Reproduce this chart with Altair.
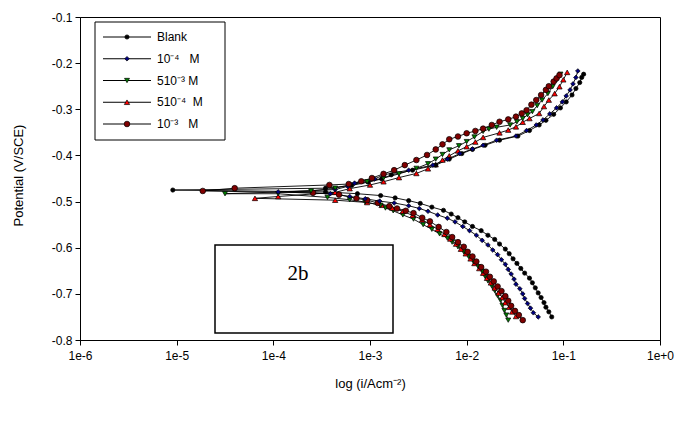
import altair as alt
import pandas as pd

# ---------------- data (E in V/SCE, log10 of current density) ----------------
series_names = ["Blank", "1e-4", "5e-3", "5e-4", "1e-3"]
legend_labels = ["Blank", "10\u207b\u2074\u00a0\u00a0\u00a0M", "510\u207b\u00b3\u00a0M",
                 "510\u207b\u2074\u00a0\u00a0M", "10\u207b\u00b3\u00a0\u00a0\u00a0M"]

blank_E = [-0.750, -0.739, -0.729, -0.719, -0.708, -0.698, -0.687, -0.676, -0.666, -0.655,
           -0.645, -0.634, -0.624, -0.613, -0.603, -0.592, -0.582, -0.573, -0.563, -0.554,
           -0.544, -0.535, -0.527, -0.519, -0.512, -0.504, -0.498, -0.492, -0.487, -0.483,
           -0.479, -0.475,
           -0.471, -0.465, -0.458, -0.451, -0.442, -0.432, -0.421, -0.408, -0.396, -0.387,
           -0.378, -0.367, -0.358, -0.346, -0.334, -0.324, -0.311, -0.297, -0.284, -0.269,
           -0.255, -0.242, -0.231, -0.224]
blank_logi = [-1.12, -1.15, -1.18, -1.20, -1.23, -1.26, -1.29, -1.32, -1.35, -1.40,
              -1.44, -1.48, -1.52, -1.56, -1.60, -1.66, -1.71, -1.78, -1.85, -1.94,
              -2.02, -2.09, -2.16, -2.24, -2.36, -2.48, -2.60, -2.74, -2.89, -3.13,
              -3.46, -5.04,
              -3.46, -3.19, -3.02, -2.88, -2.78, -2.56, -2.32, -2.18, -2.05, -1.94,
              -1.81, -1.66, -1.47, -1.35, -1.25, -1.18, -1.10, -1.03, -0.97, -0.91,
              -0.87, -0.83, -0.81, -0.79]

c1e4_E = [-0.750, -0.741, -0.731, -0.721, -0.710, -0.700, -0.689, -0.679, -0.668, -0.657,
          -0.647, -0.636, -0.626, -0.615, -0.605, -0.594, -0.584, -0.573, -0.563, -0.554,
          -0.544, -0.536, -0.529, -0.521, -0.515, -0.509, -0.503, -0.499, -0.494, -0.489,
          -0.483, -0.479,
          -0.474, -0.467, -0.460, -0.451, -0.442, -0.432, -0.421, -0.408, -0.396, -0.386,
          -0.378, -0.367, -0.358, -0.346, -0.334, -0.323, -0.310, -0.297, -0.284, -0.271,
          -0.258, -0.245, -0.231, -0.217]
c1e4_logi = [-1.26, -1.31, -1.34, -1.37, -1.40, -1.42, -1.45, -1.49, -1.51, -1.54,
             -1.57, -1.60, -1.64, -1.68, -1.73, -1.78, -1.84, -1.90, -1.97, -2.04,
             -2.12, -2.20, -2.30, -2.40, -2.49, -2.60, -2.75, -2.90, -3.05, -3.21,
             -3.41, -3.95,
             -3.36, -3.23, -3.16, -2.95, -2.86, -2.60, -2.35, -2.20, -2.07, -1.94,
             -1.83, -1.69, -1.49, -1.38, -1.28, -1.21, -1.14, -1.07, -1.01, -0.97,
             -0.93, -0.90, -0.87, -0.85]

c5e3_E = [-0.757, -0.746, -0.736, -0.725, -0.714, -0.704, -0.693, -0.683, -0.672, -0.662,
          -0.651, -0.641, -0.630, -0.619, -0.609, -0.598, -0.588, -0.579, -0.570, -0.560,
          -0.550, -0.538, -0.529, -0.520, -0.514, -0.508, -0.501, -0.496, -0.491, -0.483,
          -0.483, -0.477, -0.471, -0.464, -0.457, -0.449, -0.440, -0.428, -0.418, -0.408,
          -0.398, -0.388, -0.379, -0.370, -0.360, -0.348, -0.343, -0.339, -0.334, -0.327,
          -0.320, -0.312, -0.305, -0.292, -0.280, -0.266, -0.251, -0.237, -0.224]
c5e3_logi = [-1.57, -1.59, -1.61, -1.63, -1.65, -1.68, -1.71, -1.74, -1.78, -1.81,
             -1.84, -1.88, -1.93, -1.98, -2.03, -2.09, -2.15, -2.20, -2.28, -2.36,
             -2.45, -2.55, -2.66, -2.76, -2.84, -2.89, -3.05, -3.21, -3.44, -3.95,
             -4.50, -3.61, -3.36, -3.21, -3.03, -2.86, -2.70, -2.52, -2.40, -2.32,
             -2.25, -2.18, -2.08, -2.00, -1.92, -1.83, -1.77, -1.69, -1.55, -1.48,
             -1.42, -1.37, -1.32, -1.27, -1.22, -1.16, -1.11, -1.07, -1.03]

c5e4_E = [-0.749, -0.739, -0.729, -0.719, -0.708, -0.698, -0.687, -0.676, -0.666, -0.655,
          -0.645, -0.634, -0.624, -0.613, -0.603, -0.592, -0.581, -0.571, -0.560, -0.550,
          -0.539, -0.530, -0.521, -0.514, -0.508, -0.502, -0.497, -0.493, -0.489, -0.480,
          -0.472, -0.464, -0.457, -0.448, -0.439, -0.429, -0.420, -0.410, -0.401, -0.390,
          -0.381, -0.371, -0.361, -0.351, -0.345, -0.338, -0.328, -0.320, -0.309, -0.294,
          -0.280, -0.266, -0.251, -0.236, -0.220]
c5e4_logi = [-1.49, -1.53, -1.56, -1.60, -1.63, -1.67, -1.71, -1.75, -1.79, -1.83,
             -1.87, -1.92, -1.96, -2.01, -2.06, -2.11, -2.17, -2.23, -2.30, -2.38,
             -2.46, -2.56, -2.66, -2.77, -2.88, -3.03, -3.36, -4.19, -3.95, -3.36,
             -3.21, -3.00, -2.86, -2.70, -2.52, -2.40, -2.32, -2.25, -2.18, -2.09,
             -2.00, -1.91, -1.83, -1.66, -1.57, -1.49, -1.42, -1.35, -1.25, -1.20,
             -1.15, -1.09, -1.04, -1.00, -0.96]

c1e3_E = [-0.757, -0.746, -0.737, -0.726, -0.715, -0.705, -0.694, -0.684, -0.673, -0.663,
          -0.652, -0.642, -0.630, -0.619, -0.609, -0.598, -0.588, -0.577, -0.566, -0.555,
          -0.543, -0.535, -0.525, -0.520, -0.515, -0.510, -0.503, -0.497, -0.493, -0.485,
          -0.481, -0.477, -0.471, -0.464, -0.462, -0.456, -0.449, -0.440, -0.432, -0.421,
          -0.410, -0.399, -0.387, -0.376, -0.365, -0.359, -0.352, -0.347, -0.342, -0.334,
          -0.327, -0.322, -0.316, -0.309, -0.302, -0.290, -0.280, -0.269, -0.258, -0.250,
          -0.240, -0.233, -0.226]
c1e3_logi = [-1.42, -1.46, -1.50, -1.54, -1.57, -1.60, -1.64, -1.68, -1.72, -1.76,
             -1.80, -1.85, -1.90, -1.94, -1.99, -2.03, -2.09, -2.15, -2.21, -2.29,
             -2.38, -2.46, -2.55, -2.63, -2.72, -2.80, -2.92, -3.03, -3.14, -3.32,
             -3.59, -4.73, -4.40, -3.42, -3.22, -3.09, -2.98, -2.86, -2.75, -2.64,
             -2.52, -2.41, -2.32, -2.25, -2.18, -2.09, -2.00, -1.91, -1.83, -1.74,
             -1.66, -1.57, -1.49, -1.43, -1.38, -1.33, -1.28, -1.23, -1.18, -1.15,
             -1.10, -1.07, -1.04]

x_ticks = [-6, -5, -4, -3, -2, -1, 0]
y_ticks = [-0.8, -0.7, -0.6, -0.5, -0.4, -0.3, -0.2, -0.1]

# ---------------- build table ----------------
rows = []
for name, Es, Ls in [("Blank", blank_E, blank_logi), ("1e-4", c1e4_E, c1e4_logi),
                     ("5e-3", c5e3_E, c5e3_logi), ("5e-4", c5e4_E, c5e4_logi),
                     ("1e-3", c1e3_E, c1e3_logi)]:
    for i, (e, l) in enumerate(zip(Es, Ls)):
        rows.append({"series": name, "idx": i, "E": e, "logi": l})
df = pd.DataFrame(rows)

leg = pd.DataFrame({"series": series_names, "label": legend_labels, "k": list(range(5))})

fills = ["#000000", "#000080", "#008000", "#ff0000", "#800000"]
shapes = ["circle", "diamond", "triangle-down", "triangle-up", "circle"]
sizes = [18, 32, 32, 32, 40]

shape_scale = alt.Scale(domain=series_names, range=shapes)
fill_scale = alt.Scale(domain=series_names, range=fills)
size_scale = alt.Scale(domain=series_names, range=sizes)

W, H = 580, 323
FONT = "Liberation Sans"

x_enc = alt.X("logi:Q", scale=alt.Scale(domain=[-6, 0], nice=False),
              axis=alt.Axis(values=x_ticks, labelExpr="datum.value == 0 ? '1e+0' : '1e' + datum.value",
                            labelFlush=False, labelOverlap=False,
                            title="log (i/Acm\u207b\u00b2)", titleY=43, titleBaseline="middle",
                            grid=False, tickSize=5, labelPadding=5))
y_enc = alt.Y("E:Q", scale=alt.Scale(domain=[-0.8, -0.1], nice=False, zero=False),
              axis=alt.Axis(values=y_ticks,
                            labelExpr="replace(format(datum.value, '.1f'), '\u2212', '-')",
                            title="Potential (V/SCE)",
                            labelFlush=False, labelOverlap=False,
                            titleX=-62, titleY=158, titleBaseline="middle", titleAngle=-90,
                            grid=False, tickSize=5, labelPadding=3))

lines = alt.Chart(df).mark_line(color="black", strokeWidth=0.9).encode(
    x=x_enc, y=y_enc, detail="series:N", order="idx:Q")

points = alt.Chart(df).mark_point(filled=True, stroke="black", strokeWidth=0.7, opacity=1).encode(
    x="logi:Q", y="E:Q",
    shape=alt.Shape("series:N", scale=shape_scale, legend=None),
    fill=alt.Fill("series:N", scale=fill_scale, legend=None),
    size=alt.Size("series:N", scale=size_scale, legend=None),
    order="idx:Q")

main = alt.layer(lines, points)

# ---------------- "2b" box ----------------
dummy = pd.DataFrame({"t": ["2b"]})
box2b = alt.Chart(dummy).mark_rect(fill="white", stroke="black", strokeWidth=1.5).encode(
    x=alt.value(135), x2=alt.value(313), y=alt.value(228), y2=alt.value(316))
text2b = alt.Chart(dummy).mark_text(font="Liberation Serif", fontSize=21, align="center",
                                    baseline="middle", color="black").encode(
    x=alt.value(218), y=alt.value(257), text="t:N")

# ---------------- legend ----------------
ly = alt.Y("k:Q", scale=alt.Scale(domain=[0, 4], range=[20, 107]), axis=None)
leg_box = alt.Chart(dummy).mark_rect(fill="white", stroke="black", strokeWidth=1).encode(
    x=alt.value(15), x2=alt.value(145), y=alt.value(5), y2=alt.value(123))
leg_lines = alt.Chart(leg).mark_rule(color="black", strokeWidth=1).encode(
    x=alt.value(23), x2=alt.value(71), y=ly)
leg_pts = alt.Chart(leg).mark_point(filled=True, stroke="black", strokeWidth=0.7, opacity=1).encode(
    x=alt.value(47), y=ly,
    shape=alt.Shape("series:N", scale=shape_scale, legend=None),
    fill=alt.Fill("series:N", scale=fill_scale, legend=None),
    size=alt.Size("series:N", scale=size_scale, legend=None))
leg_text = alt.Chart(leg).mark_text(align="left", baseline="middle", font=FONT, fontSize=12,
                                    color="black").encode(
    x=alt.value(77), y=ly, text="label:N")
legend = alt.layer(leg_box, leg_lines, leg_pts, leg_text)

chart = alt.layer(main, box2b, text2b, legend).resolve_scale(y="independent").properties(
    width=W, height=H,
    autosize=alt.AutoSizeParams(type="none"),
    padding={"left": 80, "top": 17, "right": 33, "bottom": 86},
    background="white",
).configure_view(stroke="black", strokeWidth=1).configure_axis(
    labelFont=FONT, titleFont=FONT, labelFontSize=12, titleFontSize=13,
    labelColor="black", titleColor="black", domainColor="black", tickColor="black",
    titleFontWeight="normal"
)

chart.save("out.html", embed_options={"renderer": "svg", "actions": False})
